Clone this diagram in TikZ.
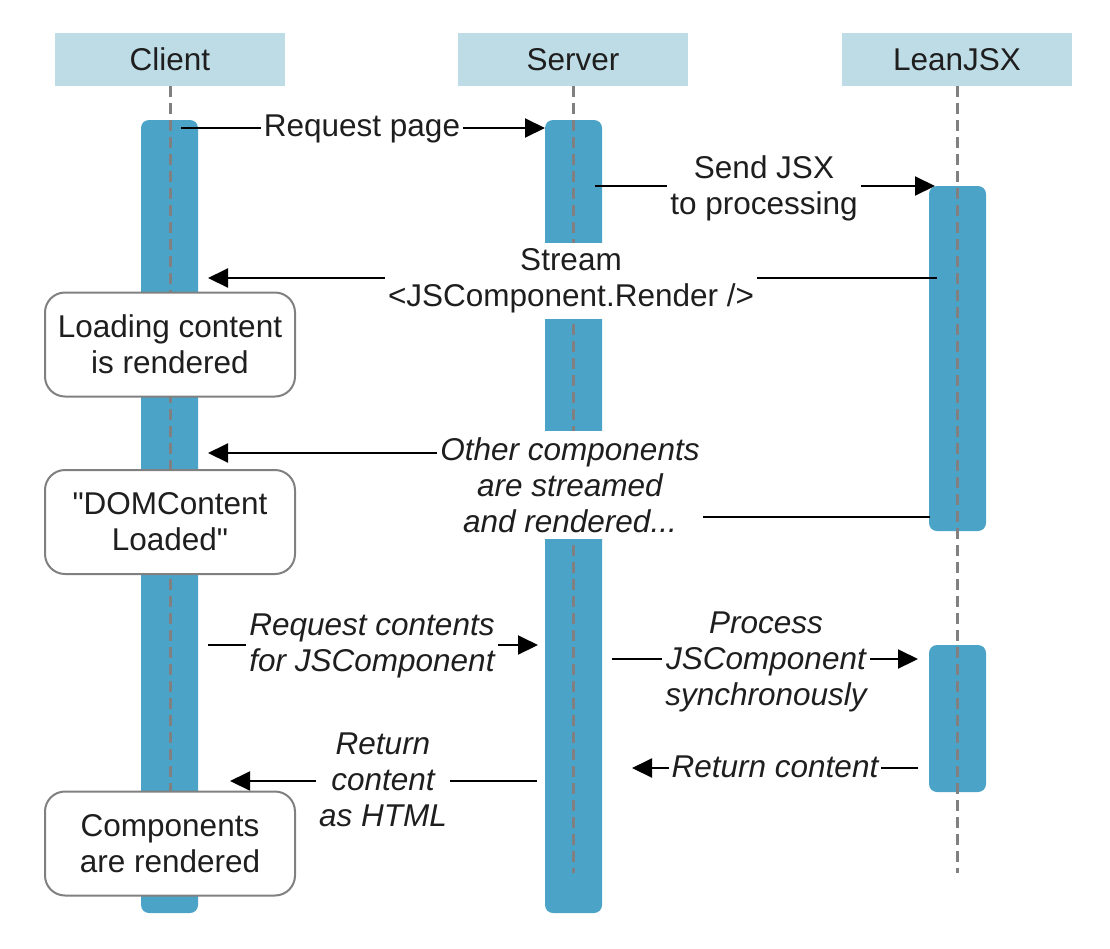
\documentclass[tikz,border=0pt]{standalone}
\usepackage{fontspec}
\setmainfont{Liberation Sans}
\newfontfamily\qfont{Liberation Sans}
\usetikzlibrary{arrows.meta}
\definecolor{hdr}{RGB}{190,220,230}
\definecolor{barblue}{RGB}{75,163,199}
\definecolor{life}{RGB}{128,128,128}
\definecolor{txt}{RGB}{30,30,30}
\begin{document}
\begin{tikzpicture}[x=1pt,y=-1pt,
  every node/.style={font=\fontsize{31.5}{36}\selectfont, text=txt},
  header/.style={fill=hdr, minimum width=230pt, minimum height=53pt, inner sep=0pt},
  actbar/.style={fill=barblue, rounded corners=8pt},
  lifeline/.style={draw=life, line width=3pt, dash pattern=on 11pt off 6pt},
  msg/.style={draw=black, line width=2pt, -{Triangle[length=20pt,width=19pt]}},
  lbl/.style={fill=white, align=center, inner xsep=3pt, inner ysep=6pt},
  ilbl/.style={lbl, font=\fontsize{31.5}{36}\selectfont\itshape},
  state/.style={draw=life, line width=2pt, fill=white, rounded corners=20pt,
    minimum width=250pt, minimum height=104pt, align=center, inner sep=0pt}
]
\useasboundingbox (0,0) rectangle (1110,948);

% headers
\node[header] (client) at (170,59.5) {Client};
\node[header] (server) at (573,59.5) {Server};
\node[header] (lean) at (957,59.5) {LeanJSX};

% activation bars
\path[actbar] (141,120) rectangle (198,913);
\path[actbar] (545,120) rectangle (602,913);
\path[actbar] (929,186) rectangle (986,531);
\path[actbar] (929,645) rectangle (986,792);

% lifelines
\coordinate (clientEnd) at (170,873);
\coordinate (serverEnd) at (573,873);
\coordinate (leanEnd) at (957,873);
\draw[lifeline] (client.south) -- (clientEnd);
\draw[lifeline] (server.south) -- (serverEnd);
\draw[lifeline] (lean.south) -- (leanEnd);

% message end points
\coordinate (m1a) at (181,128);  \coordinate (m1b) at (545,128);
\coordinate (m2a) at (595,186);  \coordinate (m2b) at (935,186);
\coordinate (m3a) at (937,278);  \coordinate (m3b) at (208,278);
\coordinate (m4a) at (930,517);  \coordinate (m4k1) at (570,517);
\coordinate (m4k2) at (570,453); \coordinate (m4b) at (208,453);
\coordinate (m5a) at (208,645);  \coordinate (m5b) at (538,645);
\coordinate (m6a) at (612,659);  \coordinate (m6b) at (918,659);
\coordinate (m7a) at (918,768);  \coordinate (m7b) at (632,768);
\coordinate (m8a) at (537,781);  \coordinate (m8b) at (230,781);

% messages
\draw[msg] (m1a) -- (m1b);
\draw[msg] (m2a) -- (m2b);
\draw[msg] (m3a) -- (m3b);
\draw[msg] (m4a) -- (m4k1) -- (m4k2) -- (m4b);
\draw[msg] (m5a) -- (m5b);
\draw[msg] (m6a) -- (m6b);
\draw[msg] (m7a) -- (m7b);
\draw[msg] (m8a) -- (m8b);

% message labels
\node[lbl] (l1) at (362,129) {Request page};
\node[lbl] (l2) at (764,188) {Send JSX\\to processing};
\node[lbl] (l3) at (571,281) {Stream\\<JSComponent.Render />};
\node[ilbl] (l4) at (570,485) {Other components\\are streamed\\and rendered...};
\node[ilbl] (l5) at (372,646) {Request contents\\for JSComponent};
\node[ilbl] (l6) at (766,662) {Process\\JSComponent\\synchronously};
\node[ilbl] (l7) at (775,767) {Return content};
\node[ilbl] (l8) at (383,780) {Return\\content\\as HTML};

% states
\node[state] (s1) at (170,344.5) {Loading content\\is rendered};
\node[state] (s2) at (170,522) {{\qfont"}DOMContent\\Loaded{\qfont"}};
\node[state] (s3) at (170,843.5) {Components\\are rendered};
\end{tikzpicture}
\end{document}
